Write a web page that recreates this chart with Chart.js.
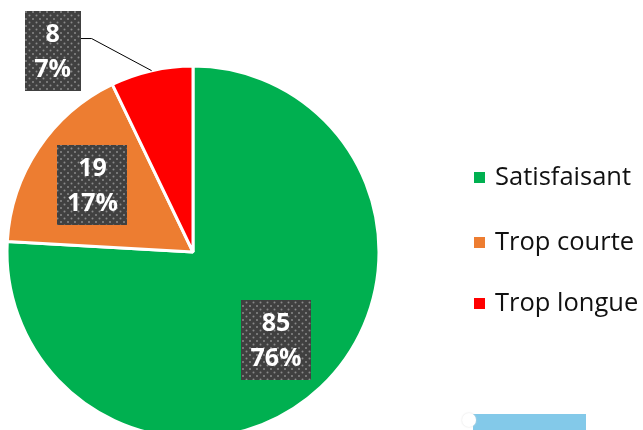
<!DOCTYPE html>
<html>
<head>
<meta charset="utf-8">
<script src="https://cdn.jsdelivr.net/npm/chart.js@4"></script>
<style>
  html, body { margin: 0; padding: 0; background: #fff; overflow: hidden; }
  #wrap { position: absolute; left: 0; top: 0; width: 643px; height: 500px; }
  #bar { position: absolute; left: 473px; top: 414px; width: 113px; height: 20px; background: #83c9e9; }
  #knob { position: absolute; left: 462px; top: 413px; width: 14px; height: 14px; border-radius: 7px; background: #fff; box-shadow: 0 0 2px #ddd; }
</style>
</head>
<body>
<div id="wrap"><canvas id="pieChart"></canvas></div>
<div id="bar"></div>
<div id="knob"></div>
<script>
// données du graphique
const labels = ["Satisfaisant", "Trop courte", "Trop longue"];
const values = [85, 19, 8];
const colors = ["#00b050", "#ed7d31", "#ff0000"];

const total = values.reduce((a, b) => a + b, 0);

// motif pointillé des étiquettes
function makePattern(ctx) {
    const c = document.createElement('canvas');
    c.width = 7;
    c.height = 7;
    const p = c.getContext('2d');
    p.fillStyle = '#404040';
    p.fillRect(0, 0, 7, 7);
    p.fillStyle = '#8a8a8a';
    [[1.5, 1.5], [5, 5]].forEach(d => {
        p.beginPath();
        p.arc(d[0], d[1], 1, 0, Math.PI * 2);
        p.fill();
    });
    return ctx.createPattern(c, 'repeat');
}

const labelPlugin = {
    id: 'boxLabels',
    afterDatasetsDraw(chart) {
        const ctx = chart.ctx;
        const pattern = makePattern(ctx);
        const arcs = chart.getDatasetMeta(0).data;
        ctx.save();
        ctx.font = 'bold 25px "Open Sans"';
        ctx.textAlign = 'center';
        ctx.textBaseline = 'middle';
        arcs.forEach((arc, i) => {
            const p = arc.getProps(['x', 'y', 'startAngle', 'endAngle', 'outerRadius'], true);
            const mid = (p.startAngle + p.endAngle) / 2;
            const pct = Math.round(values[i] / total * 100) + '%';
            const txt = [String(values[i]), pct];
            const w = Math.max(...txt.map(t => ctx.measureText(t).width)) + 19;
            const h = 80;
            let bx, by;
            const outside = values[i] / total < 0.1;
            if (outside) {
                const a = mid - 22 * Math.PI / 180;
                bx = p.x + Math.cos(a) * p.outerRadius * 1.32;
                by = p.y + Math.sin(a) * p.outerRadius * 1.32;
                // ligne de rappel
                const ex = p.x + Math.cos(mid) * p.outerRadius;
                const ey = p.y + Math.sin(mid) * p.outerRadius;
                ctx.strokeStyle = '#000';
                ctx.lineWidth = 1;
                ctx.beginPath();
                ctx.moveTo(bx + w / 2, by - 12);
                ctx.lineTo(bx + w / 2 + 11, by - 12);
                ctx.lineTo(ex, ey);
                ctx.stroke();
            } else {
                bx = p.x + Math.cos(mid) * p.outerRadius * 0.65;
                by = p.y + Math.sin(mid) * p.outerRadius * 0.65;
            }
            ctx.fillStyle = pattern;
            ctx.fillRect(Math.round(bx - w / 2), Math.round(by - h / 2), Math.round(w), h);
            ctx.fillStyle = '#fff';
            ctx.fillText(txt[0], bx, by - 16);
            ctx.fillText(txt[1], bx, by + 19);
        });
        ctx.restore();
    }
};

const legendPlugin = {
    id: 'sideLegend',
    afterDraw(chart) {
        const ctx = chart.ctx;
        const rows = [177, 242, 303];
        ctx.save();
        ctx.font = '25.5px "Open Sans"';
        ctx.textBaseline = 'middle';
        labels.forEach((l, i) => {
            ctx.fillStyle = colors[i];
            ctx.fillRect(474, rows[i] - 5, 11, 11);
            ctx.fillStyle = '#111';
            ctx.fillText(l, 495, rows[i] + 1);
        });
        ctx.restore();
    }
};

const pieCtx = document.getElementById('pieChart').getContext('2d');
let pieChart = new Chart(pieCtx, {
    type: 'pie',
    data: {
        labels: labels,
        datasets: [{
            data: values,
            backgroundColor: colors,
            borderColor: '#fff',
            borderWidth: 3
        }]
    },
    options: {
        responsive: true,
        maintainAspectRatio: false,
        animation: false,
        radius: 186,
        layout: { padding: { left: 0, right: 257, top: 60, bottom: 56 } },
        plugins: {
            legend: { display: false },
            tooltip: { enabled: false }
        }
    },
    plugins: [labelPlugin, legendPlugin]
});
</script>
</body>
</html>
